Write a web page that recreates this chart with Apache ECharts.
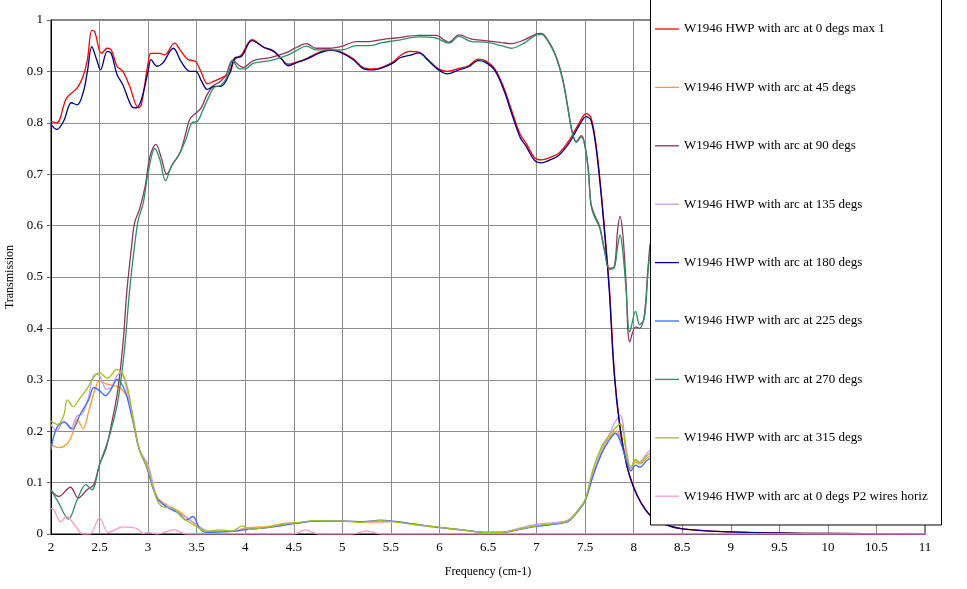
<!DOCTYPE html>
<html>
<head>
<meta charset="utf-8">
<title>W1946 HWP transmission</title>
<script src="https://cdn.jsdelivr.net/npm/echarts@6/dist/echarts.min.js"></script>
<style>
    html, body { margin: 0; padding: 0; background: #fff; }
    #main { width: 967px; height: 589px; }
</style>
</head>
<body>
<div id="main"></div>
<script>
// 图例名称
var names = [
    'W1946 HWP with arc at 0 degs max 1',
    'W1946 HWP with arc at 45 degs',
    'W1946 HWP with arc at 90 degs',
    'W1946 HWP with arc at 135 degs',
    'W1946 HWP with arc at 180 degs',
    'W1946 HWP with arc at 225 degs',
    'W1946 HWP with arc at 270 degs',
    'W1946 HWP with arc at 315 degs',
    'W1946 HWP with arc at 0 degs P2 wires horiz'
];
var colors = ['#ff0000', '#ff9a30', '#8e3560', '#c99bff', '#000080', '#3d6bff', '#2f8f62', '#9ec41c', '#ff99cc'];

// [frequency (cm-1), transmission]
var arc0 = [[2.0,0.803],[2.06,0.80],[2.16,0.848],[2.27,0.868],[2.33,0.89],[2.375,0.923],[2.42,0.98],[2.45,0.977],[2.52,0.935],[2.58,0.945],[2.62,0.942],[2.68,0.91],[2.74,0.90],[2.81,0.871],[2.9,0.829],[2.93,0.835],[3.0,0.916],[3.03,0.935],[3.12,0.935],[3.17,0.932],[3.27,0.955],[3.34,0.939],[3.41,0.923],[3.49,0.919],[3.55,0.897],[3.61,0.876],[3.68,0.881],[3.77,0.889],[3.84,0.896],[3.89,0.923],[3.96,0.932],[4.07,0.962],[4.19,0.947],[4.29,0.939],[4.375,0.924],[4.44,0.914],[4.53,0.918],[4.63,0.925],[4.77,0.938],[4.87,0.942],[4.97,0.939],[5.11,0.925],[5.21,0.908],[5.31,0.905],[5.41,0.908],[5.52,0.918],[5.6,0.931],[5.69,0.939],[5.79,0.937],[5.89,0.921],[5.99,0.905],[6.08,0.90],[6.2,0.906],[6.3,0.911],[6.4,0.924],[6.47,0.921],[6.57,0.905],[6.67,0.865],[6.74,0.826],[6.83,0.778],[6.89,0.761],[6.98,0.732],[7.05,0.728],[7.13,0.732],[7.23,0.741],[7.34,0.767],[7.44,0.80],[7.51,0.818],[7.56,0.81],[7.61,0.761],[7.66,0.676],[7.71,0.572],[7.75,0.48],[7.8,0.319],[7.86,0.209],[7.93,0.134],[8.0,0.092],[8.08,0.06],[8.17,0.037],[8.3,0.02],[8.5,0.01],[9.0,0.004],[9.5,0.002],[10,0.001],[11,0.0]];
var arc45 = [[2.0,0.174],[2.08,0.168],[2.16,0.174],[2.22,0.194],[2.27,0.223],[2.33,0.205],[2.39,0.24],[2.45,0.279],[2.5,0.298],[2.57,0.292],[2.66,0.288],[2.71,0.285],[2.8,0.262],[2.85,0.223],[2.91,0.164],[2.98,0.138],[3.09,0.073],[3.19,0.057],[3.32,0.044],[3.43,0.027],[3.53,0.014],[3.63,0.005],[3.87,0.005],[3.99,0.011],[4.25,0.015],[4.39,0.02],[4.53,0.022],[4.73,0.025],[5.0,0.025],[5.21,0.023],[5.52,0.024],[5.76,0.018],[6.0,0.013],[6.24,0.008],[6.48,0.003],[6.62,0.003],[6.86,0.011],[7.0,0.016],[7.27,0.022],[7.34,0.027],[7.43,0.047],[7.5,0.066],[7.58,0.118],[7.67,0.16],[7.74,0.185],[7.82,0.2],[7.93,0.145],[7.97,0.128],[8.02,0.14],[8.06,0.136],[8.15,0.15],[8.4,0.17],[9,0.16],[10,0.15],[11,0.15]];
var arc90 = [[2.0,0.086],[2.08,0.073],[2.2,0.091],[2.28,0.07],[2.37,0.086],[2.44,0.096],[2.5,0.135],[2.57,0.168],[2.64,0.23],[2.68,0.27],[2.72,0.33],[2.75,0.39],[2.78,0.47],[2.83,0.56],[2.86,0.605],[2.91,0.631],[2.97,0.677],[3.02,0.735],[3.08,0.758],[3.14,0.729],[3.19,0.70],[3.26,0.722],[3.33,0.742],[3.38,0.774],[3.43,0.807],[3.5,0.82],[3.55,0.83],[3.6,0.852],[3.67,0.872],[3.74,0.88],[3.8,0.892],[3.87,0.922],[3.94,0.911],[3.98,0.908],[4.085,0.921],[4.26,0.927],[4.43,0.937],[4.53,0.947],[4.63,0.954],[4.73,0.945],[4.87,0.945],[5.0,0.949],[5.14,0.958],[5.28,0.958],[5.41,0.962],[5.55,0.965],[5.79,0.97],[5.96,0.97],[6.1,0.957],[6.2,0.971],[6.33,0.963],[6.47,0.96],[6.64,0.956],[6.74,0.954],[6.88,0.962],[7.0,0.973],[7.05,0.974],[7.12,0.96],[7.2,0.93],[7.27,0.885],[7.32,0.833],[7.37,0.78],[7.41,0.764],[7.46,0.775],[7.49,0.764],[7.53,0.715],[7.56,0.644],[7.59,0.624],[7.65,0.598],[7.7,0.553],[7.75,0.517],[7.8,0.52],[7.835,0.592],[7.86,0.618],[7.89,0.579],[7.92,0.494],[7.96,0.374],[8.02,0.403],[8.06,0.40],[8.11,0.426],[8.155,0.533],[8.2,0.58],[8.4,0.6],[9,0.56],[10,0.52],[11,0.52]];
var arc135 = [[2.0,0.213],[2.06,0.2],[2.13,0.22],[2.2,0.205],[2.27,0.23],[2.32,0.233],[2.38,0.262],[2.45,0.311],[2.5,0.308],[2.57,0.282],[2.62,0.285],[2.68,0.308],[2.72,0.314],[2.78,0.282],[2.85,0.217],[2.91,0.164],[3.0,0.135],[3.09,0.073],[3.19,0.053],[3.32,0.04],[3.43,0.027],[3.53,0.014],[3.61,0.005],[3.87,0.005],[4.0,0.01],[4.25,0.013],[4.53,0.021],[4.73,0.025],[5.0,0.025],[5.21,0.024],[5.52,0.024],[5.76,0.018],[6.0,0.012],[6.24,0.007],[6.48,0.003],[6.62,0.003],[6.86,0.013],[7.0,0.019],[7.27,0.024],[7.34,0.029],[7.43,0.047],[7.5,0.066],[7.58,0.115],[7.67,0.165],[7.74,0.19],[7.8,0.215],[7.86,0.231],[7.93,0.16],[7.97,0.13],[8.02,0.145],[8.06,0.14],[8.15,0.16],[8.4,0.18],[9,0.17],[10,0.16],[11,0.16]];
var arc180 = [[2.0,0.797],[2.06,0.787],[2.13,0.803],[2.21,0.839],[2.27,0.835],[2.33,0.858],[2.375,0.90],[2.42,0.948],[2.47,0.923],[2.51,0.903],[2.58,0.939],[2.62,0.935],[2.68,0.894],[2.74,0.874],[2.83,0.832],[2.88,0.829],[2.93,0.845],[3.0,0.90],[3.03,0.923],[3.09,0.91],[3.15,0.916],[3.26,0.945],[3.34,0.919],[3.43,0.90],[3.49,0.90],[3.55,0.881],[3.61,0.865],[3.68,0.871],[3.75,0.871],[3.84,0.897],[3.89,0.926],[3.96,0.929],[4.07,0.96],[4.19,0.947],[4.29,0.94],[4.375,0.924],[4.44,0.911],[4.53,0.917],[4.63,0.924],[4.77,0.936],[4.87,0.941],[4.97,0.938],[5.11,0.923],[5.21,0.906],[5.31,0.903],[5.41,0.907],[5.52,0.916],[5.6,0.927],[5.69,0.931],[5.79,0.936],[5.89,0.92],[5.99,0.903],[6.08,0.895],[6.2,0.903],[6.3,0.909],[6.4,0.921],[6.47,0.918],[6.57,0.902],[6.67,0.86],[6.74,0.82],[6.83,0.772],[6.89,0.755],[6.98,0.727],[7.05,0.722],[7.13,0.727],[7.23,0.737],[7.34,0.762],[7.44,0.795],[7.51,0.812],[7.56,0.805],[7.61,0.755],[7.66,0.67],[7.71,0.565],[7.75,0.47],[7.8,0.31],[7.86,0.205],[7.93,0.132],[8.0,0.09],[8.08,0.059],[8.17,0.036],[8.3,0.02],[8.5,0.01],[9.0,0.004],[9.5,0.002],[10,0.001],[11,0.0]];
var arc225 = [[2.0,0.164],[2.06,0.207],[2.14,0.217],[2.22,0.204],[2.3,0.233],[2.39,0.262],[2.44,0.285],[2.5,0.279],[2.56,0.269],[2.62,0.282],[2.68,0.301],[2.76,0.279],[2.83,0.23],[2.91,0.164],[2.98,0.132],[3.09,0.07],[3.19,0.053],[3.32,0.04],[3.39,0.027],[3.46,0.034],[3.53,0.011],[3.6,0.003],[3.87,0.005],[3.99,0.008],[4.25,0.013],[4.53,0.021],[4.73,0.025],[5.0,0.025],[5.21,0.024],[5.4,0.027],[5.52,0.025],[5.76,0.019],[6.0,0.013],[6.24,0.008],[6.48,0.003],[6.62,0.003],[6.86,0.01],[7.0,0.015],[7.27,0.021],[7.34,0.026],[7.43,0.045],[7.5,0.064],[7.58,0.112],[7.67,0.156],[7.74,0.18],[7.81,0.196],[7.93,0.14],[7.97,0.123],[8.02,0.134],[8.06,0.13],[8.15,0.145],[8.4,0.16],[9,0.15],[10,0.14],[11,0.14]];
var arc270 = [[2.0,0.086],[2.08,0.06],[2.18,0.029],[2.27,0.067],[2.36,0.096],[2.42,0.086],[2.5,0.135],[2.6,0.19],[2.68,0.25],[2.72,0.30],[2.76,0.365],[2.81,0.475],[2.86,0.56],[2.9,0.612],[2.95,0.644],[3.0,0.703],[3.07,0.75],[3.12,0.729],[3.18,0.687],[3.24,0.716],[3.31,0.735],[3.39,0.768],[3.45,0.80],[3.51,0.803],[3.56,0.823],[3.63,0.852],[3.68,0.869],[3.75,0.873],[3.82,0.892],[3.87,0.921],[3.94,0.905],[4.0,0.905],[4.085,0.916],[4.26,0.921],[4.43,0.931],[4.53,0.941],[4.63,0.949],[4.73,0.942],[4.87,0.942],[5.0,0.942],[5.14,0.95],[5.28,0.95],[5.41,0.956],[5.55,0.96],[5.79,0.967],[5.96,0.965],[6.1,0.955],[6.2,0.968],[6.33,0.958],[6.47,0.957],[6.64,0.95],[6.74,0.945],[6.88,0.956],[7.0,0.971],[7.05,0.972],[7.12,0.958],[7.2,0.928],[7.27,0.882],[7.32,0.83],[7.37,0.778],[7.41,0.762],[7.46,0.772],[7.49,0.762],[7.53,0.712],[7.56,0.64],[7.59,0.62],[7.65,0.595],[7.7,0.55],[7.75,0.515],[7.8,0.518],[7.835,0.559],[7.86,0.582],[7.89,0.546],[7.92,0.48],[7.96,0.393],[8.02,0.433],[8.06,0.407],[8.11,0.42],[8.155,0.525],[8.2,0.57],[8.4,0.6],[9,0.55],[10,0.5],[11,0.5]];
var arc315 = [[2.0,0.22],[2.07,0.213],[2.13,0.23],[2.17,0.261],[2.23,0.248],[2.3,0.265],[2.37,0.282],[2.44,0.305],[2.5,0.314],[2.58,0.303],[2.68,0.32],[2.74,0.311],[2.8,0.275],[2.85,0.217],[2.91,0.164],[3.0,0.125],[3.09,0.067],[3.15,0.053],[3.26,0.05],[3.34,0.034],[3.44,0.021],[3.53,0.011],[3.61,0.005],[3.73,0.008],[3.87,0.006],[3.97,0.016],[4.04,0.009],[4.25,0.014],[4.39,0.019],[4.53,0.022],[4.73,0.026],[5.0,0.025],[5.21,0.023],[5.38,0.026],[5.52,0.024],[5.76,0.018],[6.0,0.013],[6.24,0.008],[6.48,0.003],[6.62,0.003],[6.86,0.011],[7.0,0.016],[7.27,0.022],[7.34,0.027],[7.43,0.047],[7.5,0.066],[7.58,0.125],[7.67,0.17],[7.74,0.19],[7.86,0.214],[7.93,0.15],[7.97,0.128],[8.02,0.144],[8.06,0.138],[8.15,0.155],[8.4,0.17],[9,0.16],[10,0.15],[11,0.15]];
var arc0p2 = [[2.0,0.05],[2.03,0.047],[2.1,0.024],[2.16,0.034],[2.23,0.021],[2.33,0.0],[2.4,0.0],[2.5,0.031],[2.59,0.003],[2.74,0.014],[2.88,0.011],[2.95,0.001],[3.0,0.003],[3.09,0.0],[3.27,0.008],[3.39,0.0],[4.5,0.0],[4.62,0.008],[4.75,0.0],[5.1,0.0],[5.25,0.006],[5.4,0.0],[11,0.0]];

var allData = [arc0, arc45, arc90, arc135, arc180, arc225, arc270, arc315, arc0p2];

var chart = echarts.init(document.getElementById('main'));
var serif = 'Liberation Serif, Times New Roman, serif';

var seriesList = [];
for (var i = 0; i < names.length; i++) {
    seriesList.push({
        name: names[i],
        type: 'line',
        data: allData[i],
        symbol: 'none',
        smooth: 0.35,
        lineStyle: { width: 1.3, color: colors[i] },
        itemStyle: { color: colors[i] },
        z: 2
    });
}

var option = {
    animation: false,
    backgroundColor: '#fff',
    grid: {
        left: 51, right: 42, top: 20, bottom: 55,
        outerBoundsMode: 'none',
        containLabel: false,
        show: true, borderColor: '#000', borderWidth: 1
    },
    // 图例的白底黑框
    graphic: [{
        type: 'rect',
        z: 3,
        shape: { x: 650.5, y: -1, width: 291, height: 526 },
        style: { fill: '#fff', stroke: '#000', lineWidth: 1 }
    }],
    legend: {
        orient: 'vertical',
        left: 650,
        top: 22,
        z: 4,
        padding: [0, 0, 0, 5],
        icon: 'rect',
        itemWidth: 24,
        itemHeight: 1.3,
        itemGap: 44.4,
        textStyle: { fontFamily: serif, fontSize: 13, color: '#000', lineHeight: 14 },
        data: names
    },
    xAxis: {
        type: 'value',
        min: 2, max: 11, interval: 0.5,
        name: 'Frequency (cm-1)',
        nameLocation: 'middle',
        nameGap: 32,
        nameTextStyle: { fontFamily: serif, fontSize: 12, color: '#000' },
        axisLine: { show: true, lineStyle: { color: '#000', width: 1 } },
        axisTick: { show: false },
        axisLabel: { fontFamily: serif, fontSize: 13, color: '#000', margin: 7 },
        splitLine: { show: true, lineStyle: { color: '#8c8c8c', width: 1 } }
    },
    yAxis: {
        type: 'value',
        min: 0, max: 1, interval: 0.1,
        name: 'Transmission',
        nameLocation: 'middle',
        nameGap: 31,
        nameTextStyle: { fontFamily: serif, fontSize: 12, color: '#000' },
        axisLine: { show: true, lineStyle: { color: '#000', width: 1 } },
        axisTick: { show: true, length: 4, lineStyle: { color: '#666' } },
        axisLabel: { fontFamily: serif, fontSize: 13, color: '#000', margin: 8 },
        splitLine: { show: true, lineStyle: { color: '#8c8c8c', width: 1 } }
    },
    series: seriesList
};

chart.setOption(option);
</script>
</body>
</html>
